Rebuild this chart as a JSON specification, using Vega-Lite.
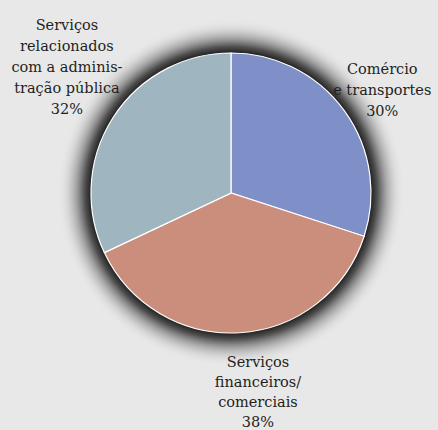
{
  "$schema": "https://vega.github.io/schema/vega-lite/v6.json",
  "width": 414,
  "height": 386,
  "autosize": {"type": "none"},
  "padding": {"left": 24, "top": 0, "right": 0, "bottom": 44},
  "background": "#e8e8e8",
  "config": {"view": {"stroke": null}},
  "data": {
    "values": [
      {"setor": "Comércio e transportes", "pct": 30, "rotulo": ["Comércio", "e transportes", "30%"]},
      {"setor": "Serviços financeiros/comerciais", "pct": 38, "rotulo": ["Serviços", "financeiros/", "comerciais", "38%"]},
      {"setor": "Serviços relacionados com a administração pública", "pct": 32, "rotulo": ["Serviços", "relacionados", "com a adminis-", "tração pública", "32%"]}
    ]
  },
  "encoding": {
    "color": {
      "field": "setor",
      "type": "nominal",
      "scale": {
        "domain": ["Comércio e transportes", "Serviços financeiros/comerciais", "Serviços relacionados com a administração pública"],
        "range": ["#7f8fc7", "#cc8e7c", "#9fb5bf"]
      },
      "legend": null
    }
  },
  "layer": [
    {
      "transform": [{"aggregate": [{"op": "sum", "field": "pct", "as": "total"}]}],
      "mark": {
        "type": "arc",
        "outerRadius": 174,
        "fill": {
          "gradient": "radial",
          "x1": 0.5, "y1": 0.5, "r1": 0,
          "x2": 0.5, "y2": 0.5, "r2": 0.5,
          "stops": [
            {"offset": 0, "color": "#000000"},
            {"offset": 0.8, "color": "#1a1a1a"},
            {"offset": 0.84, "color": "rgba(40,40,40,0.8)"},
            {"offset": 0.89, "color": "rgba(80,80,80,0.45)"},
            {"offset": 0.95, "color": "rgba(150,150,150,0.15)"},
            {"offset": 1, "color": "rgba(233,233,233,0)"}
          ]
        }
      },
      "encoding": {
        "theta": {"field": "total", "type": "quantitative"},
        "color": null
      }
    },
    {
      "mark": {"type": "arc", "outerRadius": 140, "stroke": "#ffffff", "strokeWidth": 1.2},
      "encoding": {"theta": {"field": "pct", "type": "quantitative", "stack": true}}
    },
    {
      "transform": [
        {"stack": "pct", "groupby": [], "sort": [{"field": "setor"}], "as": ["t0", "t1"]},
        {"filter": "datum.setor == 'Comércio e transportes'"}
      ],
      "mark": {"type": "text", "radius": 185, "thetaOffset": 0.986, "dx": -3, "dy": -21, "font": "DejaVu Serif", "fontSize": 14.5, "lineHeight": 21, "fill": "#231f20", "align": "center", "baseline": "middle"},
      "encoding": {"theta": {"field": "t0", "type": "quantitative", "stack": null}, "text": {"field": "rotulo"}, "color": null}
    },
    {
      "transform": [
        {"stack": "pct", "groupby": [], "sort": [{"field": "setor"}], "as": ["t0", "t1"]},
        {"filter": "datum.setor == 'Serviços financeiros/comerciais'"}
      ],
      "mark": {"type": "text", "radius": 201, "thetaOffset": 1.122, "dy": -29, "font": "DejaVu Serif", "fontSize": 14.5, "lineHeight": 20, "fill": "#231f20", "align": "center", "baseline": "middle"},
      "encoding": {"theta": {"field": "t0", "type": "quantitative", "stack": null}, "text": {"field": "rotulo"}, "color": null}
    },
    {
      "transform": [
        {"stack": "pct", "groupby": [], "sort": [{"field": "setor"}], "as": ["t0", "t1"]},
        {"filter": "datum.setor == 'Serviços relacionados com a administração pública'"}
      ],
      "mark": {"type": "text", "radius": 208, "thetaOffset": 1.086, "dx": 2, "dy": -42, "font": "DejaVu Serif", "fontSize": 14.5, "lineHeight": 21, "fill": "#231f20", "align": "center", "baseline": "middle"},
      "encoding": {"theta": {"field": "t0", "type": "quantitative", "stack": null}, "text": {"field": "rotulo"}, "color": null}
    }
  ]
}
